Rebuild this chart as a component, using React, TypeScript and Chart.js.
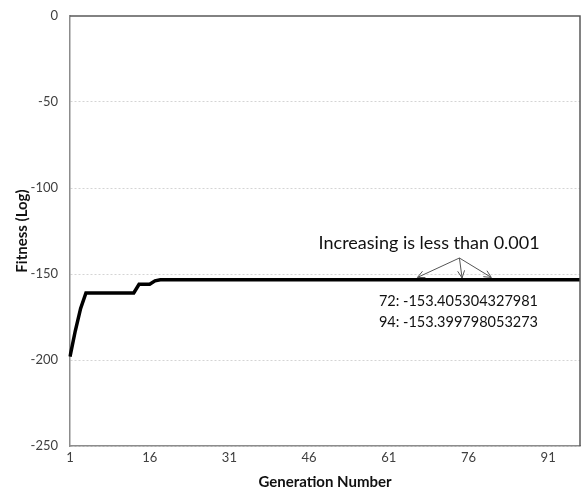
import React, { useEffect, useRef } from "react";
import { Chart, registerables } from "chart.js";

Chart.register(...registerables);

const generations: string[] = Array.from({ length: 97 }, (_, i) => String(i + 1));

const fitness: number[] = [
  -198, -183, -170, -161, -161, -161, -161, -161, -161, -161,
  -161, -161, -161, -156, -156, -156, -154, -153.41, -153.41, -153.41,
  -153.41, -153.41, -153.41, -153.41, -153.41, -153.41, -153.41, -153.41, -153.41, -153.41,
  -153.41, -153.41, -153.41, -153.41, -153.41, -153.41, -153.41, -153.41, -153.41, -153.41,
  -153.41, -153.41, -153.41, -153.41, -153.41, -153.41, -153.41, -153.41, -153.41, -153.41,
  -153.41, -153.41, -153.41, -153.41, -153.41, -153.41, -153.41, -153.41, -153.41, -153.41,
  -153.41, -153.41, -153.41, -153.41, -153.41, -153.41, -153.41, -153.41, -153.41, -153.41,
  -153.406, -153.405304327981, -153.405, -153.405, -153.405, -153.404, -153.404, -153.404, -153.403, -153.403,
  -153.403, -153.402, -153.402, -153.402, -153.401, -153.401, -153.401, -153.4, -153.4, -153.4,
  -153.4, -153.4, -153.4, -153.399798053273, -153.3998, -153.3998, -153.3998,
];

const yTicks: number[] = [0, -50, -100, -150, -200, -250];

const noteTitle = "Increasing is less than 0.001";
const noteLines: string[] = ["72: -153.405304327981", "94: -153.399798053273"];
// annotation anchor positions in data units (generation number, fitness)
const noteTitlePos = { gen: 68.6, val: -132 };
const arrowFrom = { gen: 74.3, val: -140.7 };
const arrowTips: { gen: number; val: number }[] = [
  { gen: 66.4, val: -152 },
  { gen: 74.8, val: -152.3 },
  { gen: 80.3, val: -152 },
];
const noteLinesPos = { gen: 89.1, val: -165.7, step: -12.2 };

const FONT = "Lato, 'Open Sans', 'Liberation Sans', sans-serif";

const frameAndNotes = {
  id: "frameAndNotes",
  afterDraw(chart: any) {
    const { ctx, chartArea, scales } = chart;
    const xs = scales.x;
    const ys = scales.y;
    const px = (g: number) => xs.getPixelForValue(g - 1);
    const py = (v: number) => ys.getPixelForValue(v);
    ctx.save();
    // top and right frame
    ctx.strokeStyle = "#595959";
    ctx.lineWidth = 1.5;
    ctx.beginPath();
    ctx.moveTo(chartArea.left, chartArea.top);
    ctx.lineTo(chartArea.right, chartArea.top);
    ctx.lineTo(chartArea.right, chartArea.bottom);
    ctx.stroke();

    // annotation text
    ctx.fillStyle = "#111";
    ctx.font = `18px ${FONT}`;
    ctx.textAlign = "center";
    ctx.textBaseline = "middle";
    ctx.fillText(noteTitle, px(noteTitlePos.gen), py(noteTitlePos.val));

    ctx.font = `14.5px ${FONT}`;
    ctx.textAlign = "right";
    noteLines.forEach((t, i) => {
      ctx.fillText(t, px(noteLinesPos.gen), py(noteLinesPos.val + i * noteLinesPos.step));
    });

    // arrows
    ctx.strokeStyle = "#555";
    ctx.lineWidth = 1;
    const fx = px(arrowFrom.gen);
    const fy = py(arrowFrom.val);
    arrowTips.forEach((t) => {
      const tx = px(t.gen);
      const ty = py(t.val);
      ctx.beginPath();
      ctx.moveTo(fx, fy);
      ctx.lineTo(tx, ty);
      ctx.stroke();
      const ang = Math.atan2(ty - fy, tx - fx);
      const L = 8;
      const spread = 0.45;
      ctx.beginPath();
      ctx.moveTo(tx - L * Math.cos(ang - spread), ty - L * Math.sin(ang - spread));
      ctx.lineTo(tx, ty);
      ctx.lineTo(tx - L * Math.cos(ang + spread), ty - L * Math.sin(ang + spread));
      ctx.stroke();
    });
    ctx.restore();
  },
};

export default function App() {
  const ref = useRef<HTMLCanvasElement | null>(null);
  useEffect(() => {
    if (!ref.current) return;
    const chart = new Chart(ref.current, {
      type: "line",
      data: {
        labels: generations,
        datasets: [
          {
            data: fitness,
            borderColor: "#000000",
            backgroundColor: "#000000",
            borderWidth: 3.5,
            pointRadius: 0,
            tension: 0,
            fill: false,
          },
        ],
      },
      options: {
        animation: false,
        responsive: true,
        maintainAspectRatio: false,
        layout: { padding: { top: 16, right: 2, left: 0, bottom: 0 } },
        plugins: { legend: { display: false }, tooltip: { enabled: false } },
        scales: {
          x: {
            type: "category",
            offset: false,
            grid: { display: false, drawTicks: false },
            border: { display: true, color: "#8c8c8c", width: 1.5 },
            ticks: {
              autoSkip: false,
              maxRotation: 0,
              minRotation: 0,
              padding: 4,
              color: "#404040",
              font: { family: FONT, size: 13 },
              callback: (_v: any, i: number) => (i % 15 === 0 ? generations[i] : ""),
            },
            title: {
              display: true,
              text: "Generation Number",
              color: "#111",
              font: { family: FONT, size: 15, weight: "bold" },
              padding: { top: 0, bottom: 2 },
            },
            afterFit: (s: any) => {
              s.height = 47;
            },
          },
          y: {
            min: -250,
            max: 0,
            afterBuildTicks: (s: any) => {
              s.ticks = yTicks.map((v) => ({ value: v }));
            },
            grid: {
              color: (c: any) => (c.tick && c.tick.value === 0 ? "rgba(0,0,0,0)" : "#d4d4d4"),
              drawTicks: true,
              tickLength: 12,
              tickColor: "rgba(0,0,0,0)",
              lineWidth: 1,
            },
            border: { display: true, color: "#8c8c8c", width: 1.5, dash: [2, 2] },
            ticks: {
              padding: 0,
              color: "#404040",
              font: { family: FONT, size: 13 },
            },
            title: {
              display: true,
              text: "Fitness (Log)",
              color: "#111",
              font: { family: FONT, size: 15, weight: "bold" },
              padding: { top: 13, bottom: 0 },
            },
            afterFit: (s: any) => {
              s.width = 70;
            },
          },
        },
      },
      plugins: [frameAndNotes],
    });
    return () => chart.destroy();
  }, []);
  return (
    <div style={{ position: "absolute", left: 0, top: 0, width: 584, height: 493, background: "#fff" }}>
      <canvas ref={ref} />
    </div>
  );
}
